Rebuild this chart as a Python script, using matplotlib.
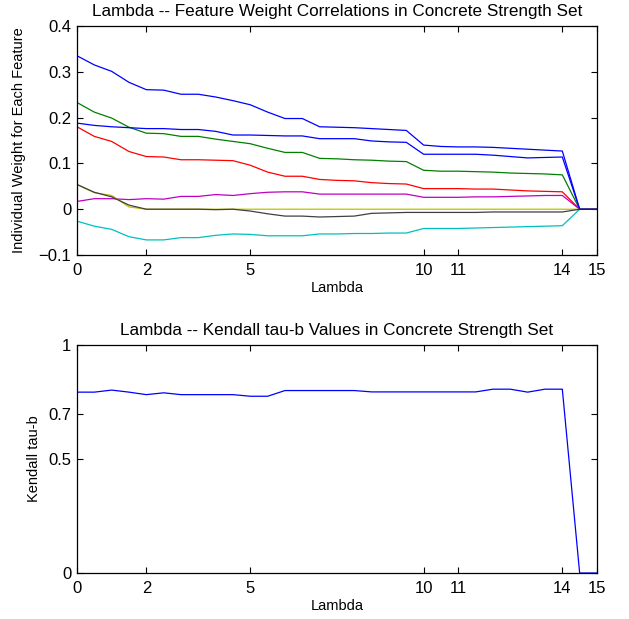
import numpy as np
import matplotlib
matplotlib.use("Agg")
import matplotlib.pyplot as plt

plt.rcParams['font.family'] = ['Liberation Sans', 'DejaVu Sans']

# lambda values (x axis)
lam = [0, 0.5, 1, 1.5, 2, 2.5, 3, 3.5, 4, 4.5, 5, 5.5, 6, 6.5, 7, 7.5,
       8, 8.5, 9, 9.5, 10, 10.5, 11, 11.5, 12, 12.5, 13, 13.5, 14, 14.5, 15]

# feature weights, one list per feature
w_blue1 = [0.335, 0.315, 0.301, 0.277, 0.261, 0.260, 0.251, 0.251, 0.245, 0.237,
           0.228, 0.212, 0.198, 0.198, 0.180, 0.179, 0.178, 0.176, 0.174, 0.172,
           0.140, 0.137, 0.136, 0.136, 0.135, 0.133, 0.131, 0.129, 0.127, 0, 0]
w_green = [0.233, 0.212, 0.199, 0.179, 0.166, 0.165, 0.159, 0.159, 0.153, 0.148,
           0.143, 0.133, 0.124, 0.124, 0.111, 0.110, 0.108, 0.107, 0.105, 0.104,
           0.085, 0.083, 0.083, 0.082, 0.081, 0.079, 0.078, 0.077, 0.075, 0, 0]
w_red = [0.180, 0.159, 0.148, 0.126, 0.115, 0.114, 0.108, 0.108, 0.107, 0.106,
         0.096, 0.081, 0.072, 0.072, 0.065, 0.063, 0.062, 0.058, 0.056, 0.055,
         0.045, 0.045, 0.045, 0.044, 0.044, 0.042, 0.040, 0.039, 0.038, 0, 0]
w_cyan = [-0.026, -0.037, -0.044, -0.060, -0.067, -0.067, -0.062, -0.062, -0.057, -0.054,
          -0.055, -0.058, -0.058, -0.058, -0.054, -0.054, -0.053, -0.053, -0.052, -0.052,
          -0.042, -0.042, -0.042, -0.041, -0.040, -0.039, -0.038, -0.037, -0.036, 0, 0]
w_magenta = [0.017, 0.023, 0.023, 0.021, 0.023, 0.022, 0.028, 0.028, 0.032, 0.030,
             0.034, 0.037, 0.038, 0.038, 0.033, 0.033, 0.033, 0.033, 0.033, 0.033,
             0.026, 0.026, 0.026, 0.027, 0.027, 0.028, 0.029, 0.030, 0.030, 0, 0]
w_yellow = [0.054, 0.036, 0.030, 0.005, 0, 0, 0, 0, 0, 0,
            0, 0, 0, 0, 0, 0, 0, 0, 0, 0,
            0, 0, 0, 0, 0, 0, 0, 0, 0, 0, 0]
w_black = [0.054, 0.037, 0.027, 0.009, 0, 0, 0, 0, -0.001, 0,
           -0.004, -0.010, -0.015, -0.015, -0.017, -0.016, -0.015, -0.009, -0.008, -0.007,
           -0.007, -0.007, -0.007, -0.007, -0.006, -0.006, -0.006, -0.006, -0.006, 0, 0]
w_blue2 = [0.188, 0.183, 0.180, 0.178, 0.176, 0.176, 0.174, 0.174, 0.170, 0.162,
           0.162, 0.161, 0.160, 0.160, 0.154, 0.154, 0.154, 0.149, 0.147, 0.146,
           0.120, 0.120, 0.120, 0.120, 0.118, 0.115, 0.112, 0.113, 0.114, 0, 0]

# Kendall tau-b per lambda
tau = [0.794, 0.794, 0.803, 0.794, 0.783, 0.791, 0.783, 0.783, 0.783, 0.783,
       0.776, 0.776, 0.801, 0.801, 0.801, 0.801, 0.801, 0.795, 0.795, 0.795,
       0.795, 0.795, 0.795, 0.795, 0.807, 0.807, 0.794, 0.807, 0.807, 0, 0]

xticks = [0, 2, 5, 10, 11, 14, 15]

# matlab style colours
colores = [(0, 0, 1), (0, 0.5, 0), (1, 0, 0), (0, 0.75, 0.75),
           (0.75, 0, 0.75), (0.75, 0.75, 0), (0.25, 0.25, 0.25), (0, 0, 1)]
series = [w_blue1, w_green, w_red, w_cyan, w_magenta, w_yellow, w_black, w_blue2]

fig = plt.figure(figsize=(6.29, 6.19), dpi=100)
ax1 = fig.add_axes([0.1224, 0.588, 0.8267, 0.370])
ax2 = fig.add_axes([0.1224, 0.0743, 0.8267, 0.368])

fs = 12      # ticks
fs_t = 12.3  # titles
fs_l = 10.5  # axis labels

def estiloMatlab(ax):
    ax.tick_params(direction='in', length=4, width=0.8, top=True, right=True,
                   labelsize=fs, pad=6)
    for s in ax.spines.values():
        s.set_linewidth(0.9)
    ax.set_xlim(0, 15)
    ax.set_xticks(xticks)
    ax.set_xticklabels([str(t) for t in xticks])

for ys, c in zip(series, colores):
    ax1.plot(lam, ys, color=c, lw=0.9)
estiloMatlab(ax1)
ax1.set_ylim(-0.1, 0.4)
ax1.set_yticks([-0.1, 0, 0.1, 0.2, 0.3, 0.4])
ax1.set_yticklabels(['\u22120.1', '0', '0.1', '0.2', '0.3', '0.4'])
ax1.tick_params(axis='y', pad=4)
ax1.set_title('Lambda -- Feature Weight Correlations in Concrete Strength Set', fontsize=fs_t, pad=7)
ax1.set_xlabel('Lambda', fontsize=fs_l, labelpad=2)
ax1.set_ylabel('Individual Weight for Each Feature', fontsize=fs_l, labelpad=9)

ax2.plot(lam, tau, color=(0, 0, 1), lw=0.9)
estiloMatlab(ax2)
ax2.set_ylim(0, 1)
ax2.set_yticks([0, 0.5, 0.7, 1])
ax2.set_yticklabels(['0', '0.5', '0.7', '1'])
ax2.tick_params(axis='y', pad=4)
ax2.set_title('Lambda -- Kendall tau-b Values in Concrete Strength Set', fontsize=fs_t, pad=7)
ax2.set_xlabel('Lambda', fontsize=fs_l, labelpad=2)
ax2.set_ylabel('Kendall tau-b', fontsize=fs_l, labelpad=5)

fig.savefig('out.png', dpi=100)
